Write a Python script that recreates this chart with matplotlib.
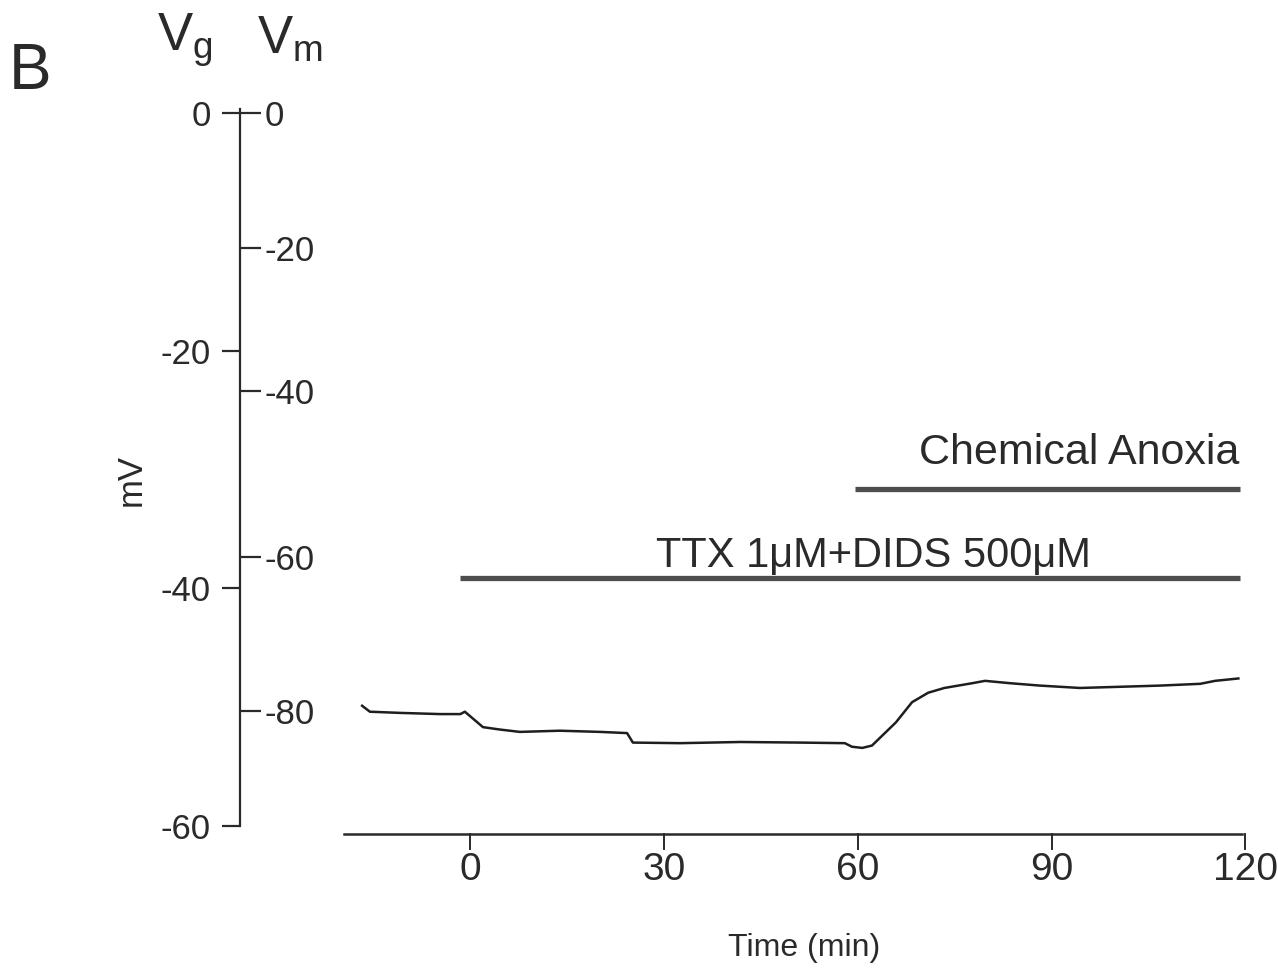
import matplotlib
matplotlib.use("Agg")
import matplotlib.pyplot as plt

# membrane potential trace (time in min, Vg in mV)
time_min = [-16.7, -15.5, -10.8, -4.6, -1.5, -0.8, 2.0, 4.6, 7.7, 13.9, 20.1,
            24.3, 25.2, 32.5, 41.8, 51.1, 58.0, 59.1, 60.7, 62.2, 65.9, 68.4,
            70.9, 73.4, 77.7, 79.7, 83.6, 88.2, 94.4, 100.6, 106.8, 113.0,
            115.3, 118.9]
vg_mv = [-49.9, -50.4, -50.5, -50.6, -50.6, -50.4, -51.7, -51.9, -52.1,
         -52.0, -52.1, -52.2, -53.0, -53.05, -52.95, -53.0, -53.05, -53.35,
         -53.45, -53.25, -51.3, -49.6, -48.8, -48.4, -48.0, -47.8, -48.0,
         -48.2, -48.4, -48.3, -48.2, -48.05, -47.8, -47.6]

# application bars: (label, start, end, level in Vg units)
ttx_bar = ("TTX 1\u03bcM+DIDS 500\u03bcM", -1.5, 119.2, -39.1)
anoxia_bar = ("Chemical Anoxia", 59.6, 119.2, -31.65)

# axes ticks
x_ticks = [0, 30, 60, 90, 120]
vg_ticks = [0, -20, -40, -60]
vm_labels = [0, -20, -40, -60, -80]
vm_tick_at_vg = [0, -11.3, -23.4, -37.4, -50.3]  # Vm scale as printed next to Vg
time_axis = (-19.5, 119.5)

FONT = "Liberation Sans"
INK = "#2a2a2a"

fig = plt.figure(figsize=(12.78, 9.72), dpi=100)
ax = fig.add_axes([240 / 1278, 1 - 834 / 972, 1010 / 1278, 726 / 972])
ax.set_xlim(-35.6, 120.7)
ax.set_ylim(-60.7, 0.45)
ax.patch.set_alpha(0)

for side in ["top", "right", "bottom"]:
    ax.spines[side].set_visible(False)
ax.spines["left"].set_bounds(-60, 0.4)
ax.spines["left"].set_linewidth(1.6)
ax.spines["left"].set_color(INK)

# Vg ticks on the left
ax.set_yticks(vg_ticks)
ax.set_yticklabels([str(v) for v in vg_ticks], fontsize=25, family=FONT, color=INK)
ax.tick_params(axis="y", direction="out", length=13, width=1.6, pad=8, color=INK)
ax.set_xticks([])

# Vm ticks on the right side of the same spine
ax2 = ax.twinx()
ax2.set_ylim(ax.get_ylim())
for side in ["top", "left", "bottom", "right"]:
    ax2.spines[side].set_visible(False)
ax2.spines["right"].set_position(("axes", 0))
ax2.set_yticks(vm_tick_at_vg)
ax2.set_yticklabels([str(v) for v in vm_labels], fontsize=25, family=FONT, color=INK)
ax2.tick_params(axis="y", direction="out", length=15, width=1.6, pad=3, color=INK)

# time axis drawn as its own line under the trace
ax.plot(time_axis, [-60.7, -60.7], color=INK, lw=1.8, clip_on=False)
for t in x_ticks:
    ax.plot([t, t], [-60.7, -62.0], color=INK, lw=1.4, clip_on=False)
    ax.text(t, -62.2, str(t), ha="center", va="top", fontsize=28,
            family=FONT, color=INK, clip_on=False)
ax.text(51.7, -70.3, "Time (min)", ha="center", va="center", fontsize=23,
        family=FONT, color=INK, clip_on=False)

# trace
ax.plot(time_min, vg_mv, color="#1e1e1e", lw=1.8)

# drug bars
for label, t0, t1, level in [ttx_bar, anoxia_bar]:
    ax.plot([t0, t1], [level, level], color="#4d4d4d", lw=3.8,
            solid_capstyle="butt")
ax.text(62.5, -37.3, ttx_bar[0], ha="center", va="center", fontsize=30,
        family=FONT, color=INK)
ax.text(119, -28.6, anoxia_bar[0], ha="right", va="center", fontsize=31,
        family=FONT, color=INK)

# axis titles
fig.text(131 / 1278, 1 - 480 / 972, "mV", rotation=90, ha="center",
         va="center", fontsize=25, family=FONT, color=INK)
fig.text(30 / 1278, 1 - 72 / 972, "B", ha="center", va="center",
         fontsize=46, family=FONT, color=INK)
fig.text(185 / 1278, 1 - 40 / 972, r"$\mathregular{V_g}$", ha="center",
         va="center", fontsize=38, family=FONT, color=INK)
fig.text(290 / 1278, 1 - 40 / 972, r"$\mathregular{V_m}$", ha="center",
         va="center", fontsize=38, family=FONT, color=INK)

fig.savefig("out.png", dpi=100)
